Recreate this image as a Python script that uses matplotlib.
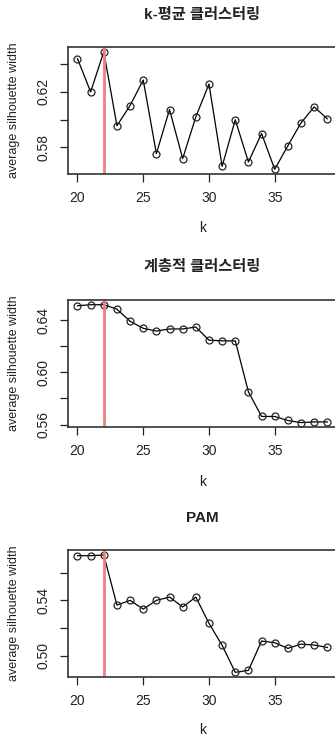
import numpy as np
import matplotlib
matplotlib.use('Agg')
import matplotlib.pyplot as plt

plt.rcParams['font.family'] = ['Liberation Sans', 'Noto Sans CJK KR', 'DejaVu Sans']

k = list(range(20, 40))
best_k = 22

titles = ['k-평균 클러스터링', '계층적 클러스터링', 'PAM']

kmeans_sil = [0.6440, 0.6200, 0.6490, 0.5956, 0.6102, 0.6286, 0.5755, 0.6073,
              0.5719, 0.6020, 0.6257, 0.5663, 0.5999, 0.5695, 0.5900, 0.5642,
              0.5812, 0.5977, 0.6092, 0.6006]
hclust_sil = [0.6511, 0.6519, 0.6519, 0.6485, 0.6392, 0.6338, 0.6317, 0.6333,
              0.6333, 0.6348, 0.6247, 0.6242, 0.6242, 0.5851, 0.5662, 0.5662,
              0.5631, 0.5615, 0.5620, 0.5620]
pam_sil = [0.5723, 0.5723, 0.5728, 0.5366, 0.5400, 0.5337, 0.5400, 0.5424,
           0.5352, 0.5424, 0.5234, 0.5075, 0.4880, 0.4894, 0.5106, 0.5094,
           0.5053, 0.5084, 0.5077, 0.5060]

yticks = [[0.58, 0.60, 0.62, 0.64],
          [0.56, 0.58, 0.60, 0.62, 0.64],
          [0.50, 0.52, 0.54, 0.56]]
ylabels = [['0.58', '', '0.62', ''],
           ['0.56', '', '0.60', '', '0.64'],
           ['0.50', '', '0.54', '']]

W, H = 335, 736
fig = plt.figure(figsize=(W / 100, H / 100), dpi=100)

# panel boxes in pixels: (left, top, right, bottom)
boxes = [(67.5, 47, 337.3, 174), (67.5, 300, 337.3, 427.3), (67.5, 550.3, 337.3, 677)]
title_y = [15, 266.7, 518]
xlab_y = [228, 481.7, 730]

dark = '#222222'
for i, ys in enumerate([kmeans_sil, hclust_sil, pam_sil]):
    l, t, r, b = boxes[i]
    ax = fig.add_axes([l / W, 1 - b / H, (r - l) / W, (b - t) / H])
    ax.plot(k, ys, color='black', lw=0.9, marker='o', ms=5, mfc='none', mec='#222222', mew=0.9)
    ax.axvline(best_k, color='#f08080', lw=2)
    rng = max(ys) - min(ys)
    ax.set_ylim(min(ys) - 0.04 * rng, max(ys) + 0.04 * rng)
    ax.set_xlim(19.24, 39.76)
    ax.set_xticks([20, 25, 30, 35])
    ax.set_yticks(yticks[i])
    ax.set_yticklabels(ylabels[i], rotation=90, va='center')
    ax.tick_params(direction='out', length=6, width=0.9, pad=6, labelsize=10, colors=dark)
    for s in ax.spines.values():
        s.set_linewidth(1.2)
        s.set_color('#333333')
    cx = (l + r) / 2
    fig.text(cx / W, 1 - title_y[i] / H, titles[i], ha='center', va='center',
             fontsize=11, fontweight='bold', color=dark)
    fig.text(cx / W, 1 - xlab_y[i] / H, 'k', ha='center', va='center', fontsize=10, color=dark)
    fig.text(14 / W, 1 - (t + b) / 2 / H, 'average silhouette width', rotation=90,
             ha='center', va='center', fontsize=9, color=dark)

fig.savefig('out.png', dpi=100)
